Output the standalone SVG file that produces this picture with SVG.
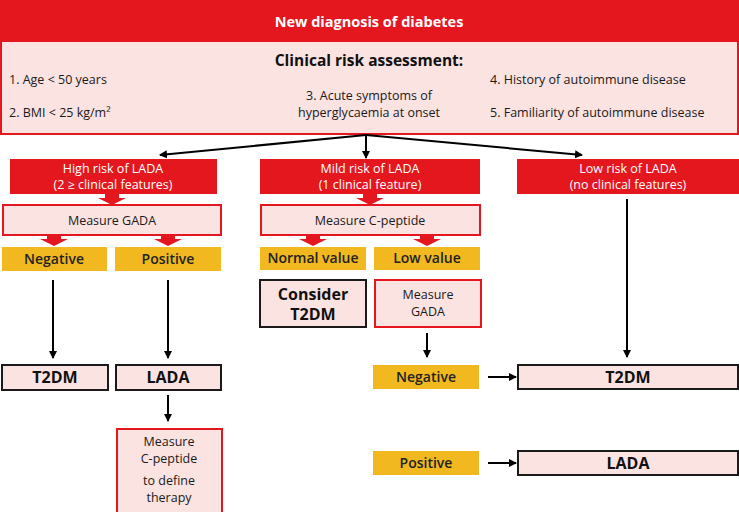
<svg xmlns="http://www.w3.org/2000/svg" width="739" height="512" viewBox="0 0 739 512">
<defs>
<marker id="ah" markerWidth="8" markerHeight="8" refX="7" refY="4" orient="auto" markerUnits="userSpaceOnUse">
<path d="M0,0 L8,4 L0,8 Z" fill="#000"/>
</marker>
<style>
text{font-family:"Open Sans","Liberation Sans",sans-serif;}
.hdr{fill:#e4171f;}
.red{fill:#e4171f;}
.pinkR{fill:#fbe3e1;stroke:#e4171f;stroke-width:2;}
.pinkK{fill:#fbe3e1;stroke:#1a1a1a;stroke-width:2;}
.yel{fill:#f1b81f;}
.wt{fill:#fff;font-size:12.5px;text-anchor:middle;}
.bt{fill:#1a1a1a;font-size:12.5px;}
.ct{text-anchor:middle;}
.yt{fill:#222;font-size:14px;font-weight:600;text-anchor:middle;}
.kt{fill:#111;font-size:16px;font-weight:700;text-anchor:middle;}
.conn line{stroke:#000;stroke-width:2;marker-end:url(#ah);}
.blk{fill:#e4171f;}
</style>
</defs>

<g id="header">
<rect x="0" y="0" width="739" height="40" class="hdr"/>
<text x="369" y="27" fill="#fff" font-size="14.5" font-weight="700" text-anchor="middle">New diagnosis of diabetes</text>
</g>

<g id="assessment">
<rect x="1" y="41" width="737" height="93" class="pinkR"/>
<text x="369" y="66" fill="#111" font-size="15.5" font-weight="700" text-anchor="middle">Clinical risk assessment:</text>
<text x="9" y="84" class="bt">1. Age &lt; 50 years</text>
<text x="9" y="117" class="bt">2. BMI &lt; 25 kg/m²</text>
<text x="369" y="100" class="bt ct">3. Acute symptoms of</text>
<text x="369" y="117" class="bt ct">hyperglycaemia at onset</text>
<text x="490" y="84" class="bt">4. History of autoimmune disease</text>
<text x="490" y="117" class="bt">5. Familiarity of autoimmune disease</text>
</g>

<g id="high-risk">
<rect x="10" y="159" width="207" height="35" class="red"/>
<text x="113" y="173" class="wt">High risk of LADA</text>
<text x="113" y="189" class="wt">(2 ≥ clinical features)</text>
</g>
<g id="mild-risk">
<rect x="260" y="159" width="220" height="35" class="red"/>
<text x="370" y="173" class="wt">Mild risk of LADA</text>
<text x="370" y="189" class="wt">(1 clinical feature)</text>
</g>
<g id="low-risk">
<rect x="517" y="159" width="222" height="35" class="red"/>
<text x="628" y="173" class="wt">Low risk of LADA</text>
<text x="628" y="189" class="wt">(no clinical features)</text>
</g>

<g id="measure-gada-1">
<rect x="3" y="205" width="218" height="30" class="pinkR"/>
<text x="112" y="225" class="bt ct" font-size="13">Measure GADA</text>
</g>
<g id="negative-1">
<rect x="2" y="247" width="105" height="24" class="yel"/>
<text x="54" y="264" class="yt">Negative</text>
</g>
<g id="positive-1">
<rect x="115" y="247" width="106" height="24" class="yel"/>
<text x="168" y="264" class="yt">Positive</text>
</g>
<g id="t2dm-1">
<rect x="2" y="365" width="106" height="25" class="pinkK"/>
<text x="55" y="383" class="kt">T2DM</text>
</g>
<g id="lada-1">
<rect x="116" y="365" width="105" height="25" class="pinkK"/>
<text x="168" y="383" class="kt">LADA</text>
</g>
<g id="measure-cpep-2">
<rect x="117" y="429" width="105" height="86" class="pinkR"/>
<text x="169" y="446" class="bt ct" font-size="12">Measure</text>
<text x="169" y="463" class="bt ct" font-size="12">C-peptide</text>
<text x="169" y="485" class="bt ct" font-size="12">to define</text>
<text x="169" y="502" class="bt ct" font-size="12">therapy</text>
</g>

<g id="measure-cpep-1">
<rect x="261" y="205" width="219" height="30" class="pinkR"/>
<text x="370" y="225" class="bt ct" font-size="13">Measure C-peptide</text>
</g>
<g id="normal-value">
<rect x="260" y="247" width="106" height="23" class="yel"/>
<text x="313" y="263" class="yt" font-size="13.5">Normal value</text>
</g>
<g id="low-value">
<rect x="374" y="247" width="106" height="23" class="yel"/>
<text x="427" y="263" class="yt" font-size="13.5">Low value</text>
</g>
<g id="consider-t2dm">
<rect x="260" y="280" width="106" height="47" class="pinkK"/>
<text x="313" y="300" class="kt" font-size="17.5">Consider</text>
<text x="313" y="320" class="kt" font-size="17.5">T2DM</text>
</g>
<g id="measure-gada-2">
<rect x="375" y="280" width="106" height="47" class="pinkR"/>
<text x="428" y="299" class="bt ct">Measure</text>
<text x="428" y="316" class="bt ct">GADA</text>
</g>
<g id="negative-2">
<rect x="373" y="365" width="106" height="24" class="yel"/>
<text x="426" y="382" class="yt" font-size="13">Negative</text>
</g>
<g id="positive-2">
<rect x="373" y="451" width="106" height="24" class="yel"/>
<text x="426" y="468" class="yt" font-size="13">Positive</text>
</g>
<g id="t2dm-2">
<rect x="518" y="365" width="220" height="24" class="pinkK"/>
<text x="628" y="383" class="kt">T2DM</text>
</g>
<g id="lada-2">
<rect x="518" y="451" width="220" height="24" class="pinkK"/>
<text x="628" y="469" class="kt">LADA</text>
</g>

<g id="connectors">
<g class="conn">
<line x1="366" y1="134" x2="366" y2="158"/>
<line x1="366" y1="135" x2="160" y2="155"/>
<line x1="366" y1="135" x2="582" y2="155"/>
<line x1="53" y1="280" x2="53" y2="358"/>
<line x1="168" y1="280" x2="168" y2="358"/>
<line x1="168" y1="395" x2="168" y2="421"/>
<line x1="427" y1="333" x2="427" y2="357"/>
<line x1="627" y1="199" x2="627" y2="357"/>
<line x1="488" y1="377" x2="516" y2="377"/>
<line x1="488" y1="463" x2="516" y2="463"/>
</g>
<g class="blk">
<path d="M105,194 H119 V198 H126 L112,205 L98,198 H105 Z"/>
<path d="M363,194 H377 V198 H384 L370,205 L356,198 H363 Z"/>
<path d="M47,235 H61 V239 H68 L54,246 L40,239 H47 Z"/>
<path d="M161,235 H175 V239 H182 L168,246 L154,239 H161 Z"/>
<path d="M306,235 H320 V239 H327 L313,246 L299,239 H306 Z"/>
<path d="M420,235 H434 V239 H441 L427,246 L413,239 H420 Z"/>
</g>
</g>
</svg>
